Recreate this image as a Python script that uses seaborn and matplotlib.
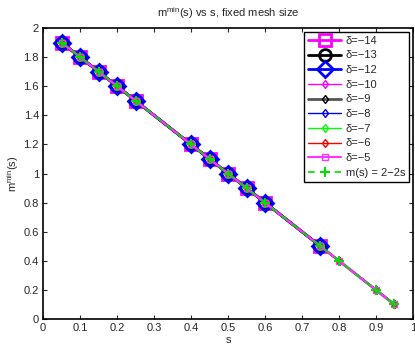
import matplotlib
matplotlib.use("Agg")
import matplotlib.pyplot as plt
import seaborn as sns
import numpy as np

sns.set_style("ticks")
plt.rcParams['font.family'] = ['Liberation Sans', 'DejaVu Sans']
plt.rcParams['mathtext.fontset'] = 'custom'
plt.rcParams['mathtext.rm'] = 'Liberation Sans'
plt.rcParams['mathtext.it'] = 'Liberation Sans'

# data
s_big = [0.05, 0.10, 0.15, 0.20, 0.25, 0.40, 0.45, 0.50, 0.55, 0.60, 0.75]
m_big = [1.90, 1.80, 1.70, 1.60, 1.50, 1.20, 1.10, 1.00, 0.90, 0.80, 0.50]
s_small = [0.05, 0.10, 0.15, 0.20, 0.25, 0.40, 0.45, 0.50, 0.55, 0.60, 0.75, 0.80, 0.90, 0.95]
m_small = [1.90, 1.80, 1.70, 1.60, 1.50, 1.20, 1.10, 1.00, 0.90, 0.80, 0.50, 0.40, 0.20, 0.10]
m_exact = [1.90, 1.80, 1.70, 1.60, 1.50, 1.20, 1.10, 1.00, 0.90, 0.80, 0.50, 0.40, 0.20, 0.10]

big_labels = ['δ=−14', 'δ=−13', 'δ=−12']
small_labels = ['δ=−10', 'δ=−9', 'δ=−8', 'δ=−7', 'δ=−6', 'δ=−5']
exact_label = 'm(s) = 2−2s'
x_ticks = [0, 0.1, 0.2, 0.3, 0.4, 0.5, 0.6, 0.7, 0.8, 0.9, 1]
y_ticks = [0, 0.2, 0.4, 0.6, 0.8, 1, 1.2, 1.4, 1.6, 1.8, 2]

fig = plt.figure(figsize=(4.15, 3.46), dpi=100)
ax = fig.add_axes([0.104, 0.078, 0.891, 0.841])

big_styles = [('#ff00ff', 's', 8), ('black', 'o', 8.5), ('#0000ff', 'D', 8.5)]
for lab, (c, mk, ms) in zip(big_labels, big_styles):
    sns.lineplot(x=s_big, y=m_big, ax=ax, color=c, marker=mk, markersize=ms,
                 markerfacecolor='none', markeredgecolor=c, markeredgewidth=2,
                 linewidth=2, label=lab, sort=False, estimator=None)

small_styles = [('#ff00ff', 'd', 4.5, 1), ('#555555', 'd', 4.5, 2), ('#0000ff', 'd', 4.5, 1),
                ('#00ff00', 'd', 4.5, 1), ('#ff0000', 'd', 4.5, 1), ('#ff33ff', 's', 4, 1.5)]
for lab, (c, mk, ms, lw) in zip(small_labels, small_styles):
    ec = 'black' if lab == 'δ=−9' else c
    sns.lineplot(x=s_small, y=m_small, ax=ax, color=c, marker=mk, markersize=ms,
                 markerfacecolor='none', markeredgecolor=ec, markeredgewidth=1,
                 linewidth=lw, label=lab, sort=False, estimator=None)

sns.lineplot(x=s_small, y=m_exact, ax=ax, color='#00dd00', marker='+', markersize=7,
             markeredgecolor='#00dd00', markeredgewidth=1.5, linewidth=1.2,
             label=exact_label, sort=False, estimator=None)
ax.lines[-1].set_linestyle((0, (4, 4)))

ax.set_xlim(0, 1)
ax.set_ylim(0, 2)
ax.set_xticks(x_ticks)
ax.set_xticklabels(['0', '0.1', '0.2', '0.3', '0.4', '0.5', '0.6', '0.7', '0.8', '0.9', '1'])
ax.set_yticks(y_ticks)
ax.set_yticklabels(['0', '0.2', '0.4', '0.6', '0.8', '1', '1.2', '1.4', '1.6', '1.8', '2'])
ax.tick_params(direction='in', top=True, right=True, labelsize=8, length=3, width=0.8, pad=3)
for sp in ax.spines.values():
    sp.set_visible(True)
    sp.set_linewidth(1.2)
    sp.set_color('black')
ax.set_xlabel('s', fontsize=8, labelpad=1)
ax.set_ylabel(r'm$^{\mathrm{min}}$(s)', fontsize=8, labelpad=2)
ax.set_title(r'm$^{\mathrm{min}}$(s) vs s, fixed mesh size', fontsize=8, pad=8)

leg = ax.legend(loc='upper right', fontsize=8, frameon=True, fancybox=False,
                handlelength=3.0, handletextpad=0.4, labelspacing=0.42,
                borderpad=0.35, borderaxespad=0.35, edgecolor='black')
leg.get_frame().set_linewidth(1.0)
leg.get_frame().set_alpha(1)

fig.savefig('out.png', dpi=100)
